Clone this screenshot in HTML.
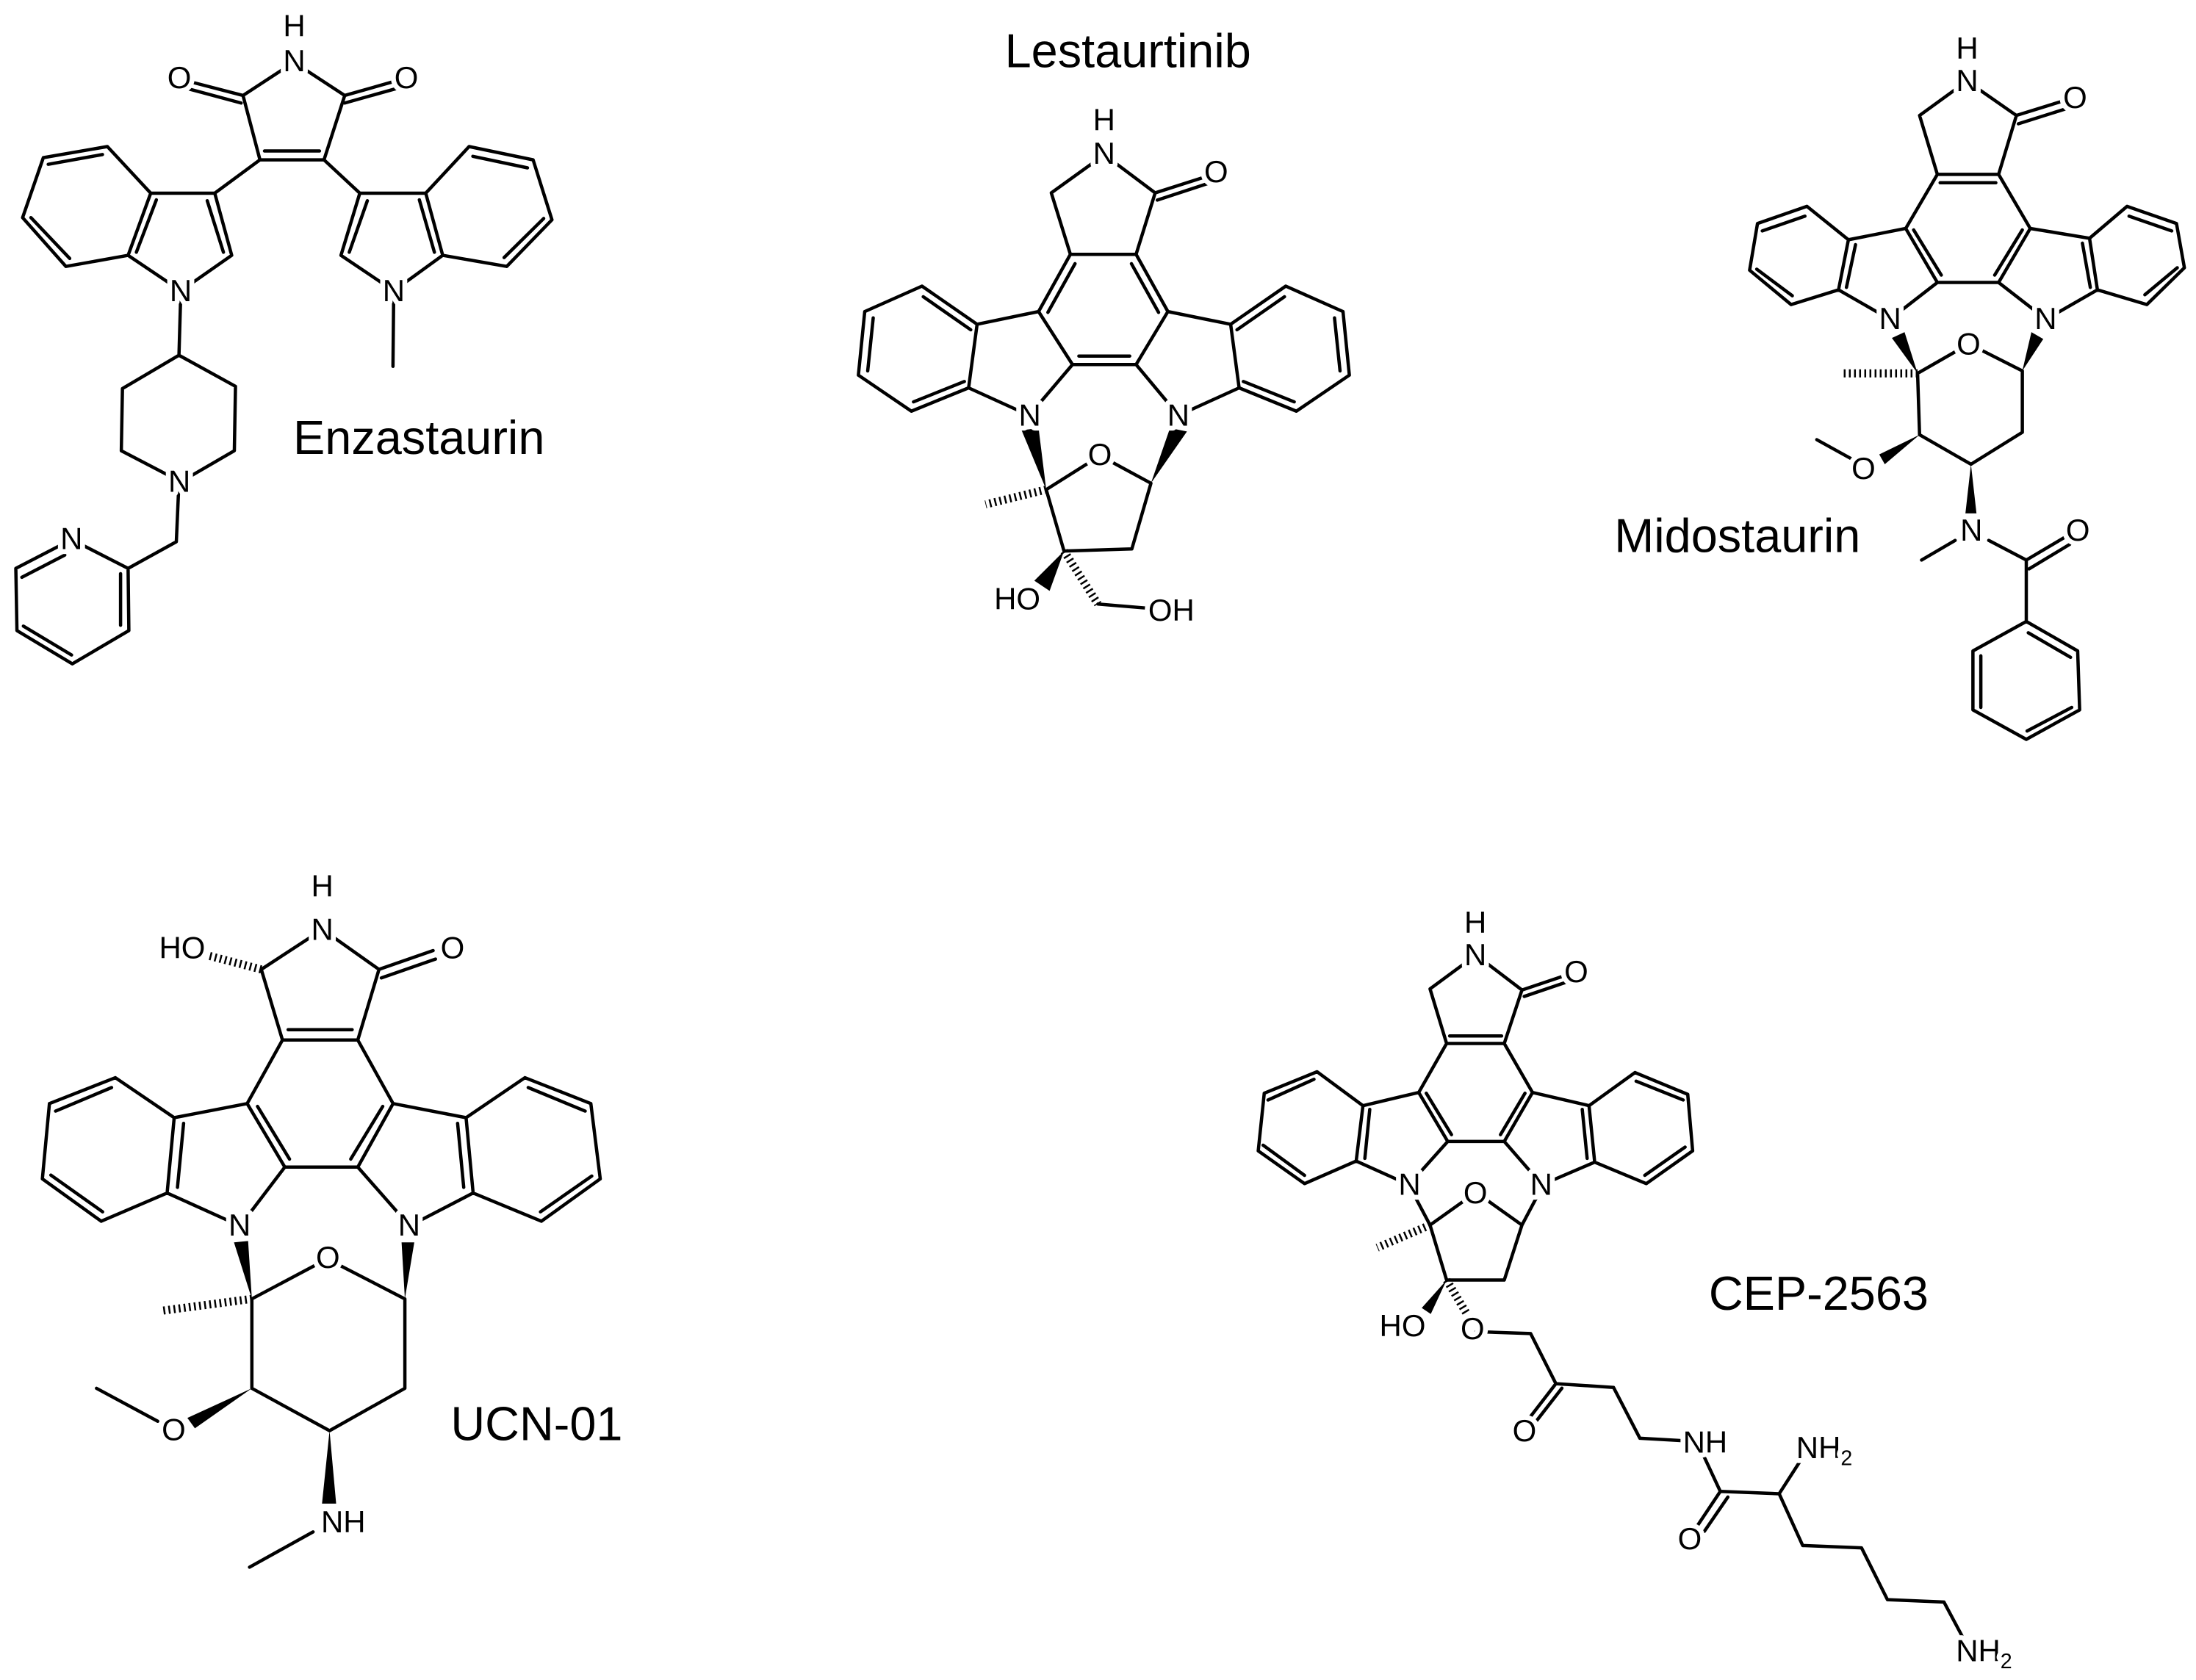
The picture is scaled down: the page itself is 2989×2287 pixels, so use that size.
<!DOCTYPE html>
<html><head><meta charset="utf-8"><style>
html,body{margin:0;padding:0;background:#fff;}
svg{display:block}
.b{fill:none;stroke:#000;stroke-width:4.5;vector-effect:non-scaling-stroke;stroke-linecap:round;stroke-linejoin:round}
.h{fill:none;stroke:#000;stroke-width:11;vector-effect:non-scaling-stroke;stroke-dasharray:2.5 4.5}
.w{fill:#000;stroke:none}
.m{fill:#fff;stroke:none}
text{font-family:"Liberation Sans",Arial,sans-serif;fill:#000;text-anchor:middle;stroke:#fff;stroke-width:7px;paint-order:stroke;stroke-linejoin:round}
.a{font-size:22px}
.t{font-size:34px;stroke:none}
</style></head><body>
<svg width="2989" height="2287" viewBox="0 0 1567.3 1199.3" preserveAspectRatio="none" xmlns="http://www.w3.org/2000/svg">
<rect width="1568" height="1200" fill="#fff"/>

<!-- ENZASTAURIN -->
<g transform="translate(0,0) scale(0.2689,0.317)">
<path class="b" d="M780,140L645,215M780,140L915,215M645,215L500,183M640,232L500,200M915,215L1060,180M915,232L1058,198
M645,215L690,360M915,215L860,360M690,360L860,360M702,340L848,340M690,360L570,435M860,360L955,435
M570,435L615,575M550,452L593,568M615,575L480,655M480,655L340,575M340,575L400,435M362,568L415,450M400,435L570,435
M400,435L285,330M285,330L115,355M272,348L128,370M115,355L60,490M60,490L175,600M82,490L185,582M175,600L340,575
M480,655L475,800M475,800L625,870L622,1015L480,1085L322,1015L325,875L475,800M475,1085L468,1220L340,1280
M340,1280L190,1215M190,1215L42,1280M58,1300L172,1250M42,1280L45,1420M45,1420L192,1495M62,1410L190,1475M192,1495L342,1420M342,1420L340,1280M320,1408L320,1292
M955,435L905,575M975,452L927,568M905,575L1045,655M1045,655L1175,575M1175,575L1130,435M1153,568L1113,450M1130,435L955,435
M1130,435L1245,330M1245,330L1415,360M1255,352L1400,378M1415,360L1465,495M1465,495L1345,600M1443,492L1338,580M1345,600L1175,575M1045,655L1043,825"/>
</g>
<text class="a" x="210" y="26">H</text>
<text class="a" x="210" y="51">N</text>
<text class="a" x="128" y="63">O</text>
<text class="a" x="290" y="63">O</text>
<text class="a" x="129" y="215">N</text>
<text class="a" x="281" y="215">N</text>
<text class="a" x="128" y="351">N</text>
<text class="a" x="51" y="392">N</text>
<text class="t" x="299" y="324">Enzastaurin</text>

<!-- LESTAURTINIB -->
<g transform="translate(550.6,0) scale(0.3026)">
<path class="b" d="M660,455L785,365M785,365L905,455M905,455L1030,415M910,472L1032,432M905,455L860,600M860,600L705,600M705,600L660,455
M705,600L630,735M716,622L652,737M860,600L935,735M849,622L913,737M935,735L860,860M860,860L710,860M725,840L845,840M710,860L630,735
M630,735L485,765M485,765L465,915M465,915L608,980M608,980L710,860
M485,765L355,675M470,778L358,700M355,675L220,735M220,735L205,885M240,750L227,875M205,885L330,970M330,970L465,915M335,948L455,900
M935,735L1083,765M1083,765L1103,915M1103,915L960,980M960,980L860,860
M1083,765L1213,675M1098,778L1210,700M1213,675L1348,735M1348,735L1363,885M1328,750L1341,875M1363,885L1238,970M1238,970L1103,915M1233,948L1113,900
M648,1155L775,1075M775,1075L895,1140M895,1140L850,1295M850,1295L690,1300M690,1300L648,1155M770,1425L890,1435"/>
<polygon class="w" points="590,1015,630,1010,648,1155"/>
<polygon class="w" points="940,1010,980,1018,895,1140"/>
<polygon class="w" points="690,1300,620,1370,656,1394"/>
<line class="h" x1="648" y1="1155" x2="505" y2="1190"/>
<line class="h" x1="690" y1="1300" x2="770" y2="1425"/>
</g>
<circle class="m" cx="785" cy="324" r="10"/>
<text class="a" x="788" y="93">H</text>
<text class="a" x="788" y="117">N</text>
<text class="a" x="868" y="130">O</text>
<text class="a" x="735" y="304">N</text>
<text class="a" x="841" y="304">N</text>
<text class="a" x="785" y="332">O</text>
<text class="a" x="726" y="435">HO</text>
<text class="a" x="836" y="443">OH</text>
<text class="t" x="805" y="48">Lestaurtinib</text>

<!-- MIDOSTAURIN -->
<g transform="translate(1127.4,0) scale(0.2821,0.3507)">
<path class="b" d="M860,235L980,165M980,165L1105,235M1105,235L1225,205M1110,252L1228,222M1105,235L1060,355M1060,355L905,355M912,372L1053,372M905,355L860,235
M905,355L825,465M1060,355L1140,465M825,465L905,575M845,468L915,560M1140,465L1060,575M1120,468L1050,560M905,575L1060,575
M825,465L680,488M680,488L655,590M698,498L675,585M655,590L785,650M785,650L905,575
M680,488L575,420M575,420L450,455M570,440L462,470M450,455L430,550M430,550L535,620M448,548L538,602M535,620L655,590
M1140,465L1290,485M1290,485L1310,590M1272,495L1292,585M1310,590L1180,650M1180,650L1060,575
M1290,485L1385,420M1385,420L1510,455M1390,440L1498,470M1510,455L1530,545M1530,545L1435,620M1512,545L1430,600M1435,620L1310,590
M855,760L985,700M985,700L1120,755M1120,755L1120,880M1120,880L990,945M990,945L860,885M860,885L855,760
M690,935L600,895M950,1100L865,1140M1035,1100L1130,1140M1130,1140L1235,1090M1137,1158L1240,1108M1130,1140L1130,1265
M1130,1265L1260,1325L1265,1445L1130,1505L995,1445L995,1325L1130,1265M1135,1288L1242,1338M1245,1440L1132,1488M1015,1440L1015,1335"/>
<polygon class="w" points="790,688,822,676,855,760"/>
<polygon class="w" points="1143,676,1173,690,1120,755"/>
<polygon class="w" points="860,885,758,925,772,945"/>
<polygon class="w" points="990,945,976,1045,1004,1045"/>
<line class="h" x1="855" y1="760" x2="668" y2="760"/>
</g>
<circle class="m" cx="1405" cy="245" r="10"/>
<text class="a" x="1404" y="42">H</text>
<text class="a" x="1404" y="65">N</text>
<text class="a" x="1481" y="77">O</text>
<text class="a" x="1349" y="235">N</text>
<text class="a" x="1460" y="235">N</text>
<text class="a" x="1405" y="253">O</text>
<text class="a" x="1330" y="342">O</text>
<text class="a" x="1407" y="386">N</text>
<text class="a" x="1483" y="386">O</text>
<text class="t" x="1240" y="394">Midostaurin</text>

<!-- UCN-01 -->
<g transform="translate(0,603) scale(0.336)">
<path class="b" d="M685,180L555,265M685,180L805,265M805,265L920,225M810,283L925,243M555,265L600,415M805,265L760,415M600,415L760,415M612,393L748,393
M600,415L525,550M760,415L835,550M525,550L605,685M547,556L615,668M835,550L760,685M813,556L745,668M605,685L760,685
M525,550L370,580M370,580L355,740M390,592L377,728M355,740L510,810M510,810L605,685
M370,580L245,495M245,495L105,550M237,516L118,566M105,550L90,710M90,710L215,800M108,702L218,780M215,800L355,740
M835,550L990,580M990,580L1005,740M972,592L985,728M1005,740L870,810M870,810L760,685
M990,580L1115,495M1115,495L1255,550M1122,516L1243,566M1255,550L1275,710M1275,710L1150,800M1257,704L1148,780M1150,800L1005,740
M535,965L695,880M695,880L860,965M860,965L860,1155M860,1155L700,1245M700,1245L535,1155M535,1155L535,965
M335,1225L205,1155M665,1460L530,1535"/>
<polygon class="w" points="497,845,527,842,535,965"/>
<polygon class="w" points="853,845,880,845,860,965"/>
<polygon class="w" points="535,1155,398,1218,414,1240"/>
<polygon class="w" points="700,1245,684,1400,714,1400"/>
<line class="h" x1="535" y1="965" x2="345" y2="990"/>
<line class="h" x1="555" y1="265" x2="440" y2="235"/>
</g>
<circle class="m" cx="234" cy="897" r="10"/>
<text class="a" x="230" y="640">H</text>
<text class="a" x="230" y="671">N</text>
<text class="a" x="130" y="684">HO</text>
<text class="a" x="323" y="684">O</text>
<text class="a" x="171" y="882">N</text>
<text class="a" x="292" y="882">N</text>
<text class="a" x="234" y="905">O</text>
<text class="a" x="124" y="1028">O</text>
<text class="a" x="245" y="1094">NH</text>
<text class="t" x="383" y="1028">UCN-01</text>

<!-- CEP-2563 core -->
<g transform="translate(865.2,629.3) scale(0.2689)">
<path class="b" d="M578,285L700,195M700,195L822,288M822,288L935,250M828,305L940,267M822,288L775,430M775,430L622,430M630,410L768,410M622,430L578,285
M622,430L548,560M775,430L850,560M548,560L625,690M568,562L635,672M850,560L775,690M830,562L765,672M625,690L775,690
M548,560L400,595M400,595L382,742M418,605L405,735M382,742L522,805M522,805L625,690
M400,595L278,505M278,505L138,562M270,525L148,580M138,562L122,715M122,715L245,802M135,700L245,780M245,802L382,742
M850,560L1000,595M1000,595L1015,745M982,605L995,735M1015,745L875,805M875,805L775,690
M1000,595L1122,507M1122,507L1262,565M1125,530L1250,580M1262,565L1275,715M1275,715L1152,802M1255,705L1148,780M1152,802L1015,745
M540,840L578,912M860,840L822,912M578,912L700,825M700,825L822,912M822,912L775,1058M775,1058L622,1058M622,1058L578,912
M700,1195L845,1200M845,1200L912,1333M912,1333L845,1420M928,1345L862,1430M912,1333L1065,1343M1065,1343L1135,1478M1135,1478L1260,1485"/>
<polygon class="w" points="622,1058,556,1132,580,1148"/>
<line class="h" x1="578" y1="912" x2="438" y2="972"/>
<line class="h" x1="622" y1="1058" x2="680" y2="1155"/>
</g>
<g transform="translate(1043,674.9) scale(0.336)">
<path class="b" d="M515,1085L550,1160M550,1160L500,1235M566,1172L516,1245M550,1160L675,1165M675,1165L720,1095M675,1165L725,1275M725,1275L850,1280M850,1280L905,1390M905,1390L1025,1395M1025,1395L1065,1470"/>
</g>
<circle class="m" cx="1053" cy="851" r="10"/>
<text class="a" x="1053" y="666">H</text>
<text class="a" x="1053" y="689">N</text>
<text class="a" x="1125" y="701">O</text>
<text class="a" x="1006" y="853">N</text>
<text class="a" x="1100" y="853">N</text>
<text class="a" x="1053" y="859">O</text>
<text class="a" x="1001" y="954">HO</text>
<text class="a" x="1051" y="956">O</text>
<text class="a" x="1088" y="1029">O</text>
<text class="a" x="1217" y="1037">NH</text>
<text class="a" x="1206" y="1106">O</text>
<text class="a" x="1302" y="1041">NH<tspan font-size="15" dy="5">2</tspan></text>
<text class="a" x="1416" y="1186">NH<tspan font-size="15" dy="5">2</tspan></text>
<text class="t" x="1298" y="935">CEP-2563</text>
</svg>
</body></html>
